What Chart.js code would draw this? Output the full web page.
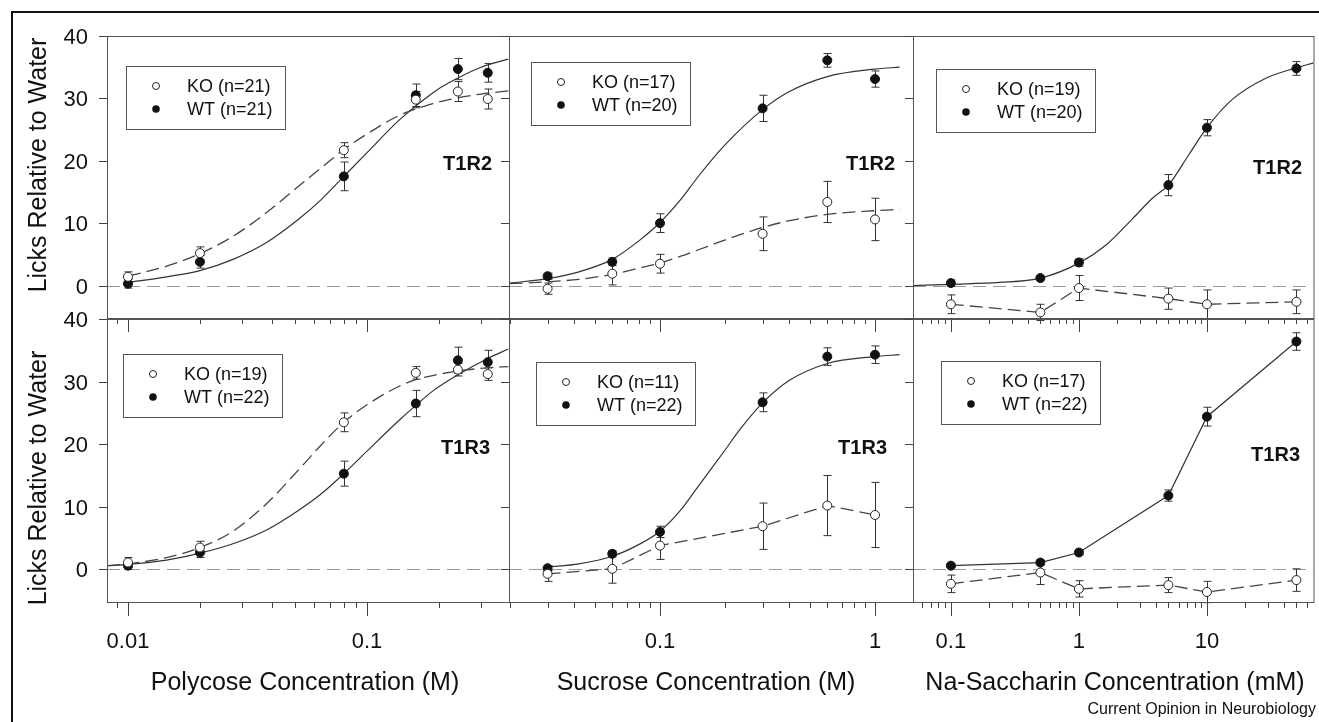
<!DOCTYPE html>
<html lang="en">
<head>
<meta charset="UTF-8">
<title>Licks Relative to Water - T1R2 / T1R3 knockout</title>
<script src="https://cdn.jsdelivr.net/npm/chart.js"></script>
<style>
  body { margin: 0; background: #fff; font-family: "Liberation Sans", Arial, sans-serif; color: #111; }
  #wrap { position: relative; width: 1319px; height: 722px; overflow: hidden; }
  #wrap canvas { position: absolute; left: 0; top: 0; }
  #frame { position: absolute; left: 11px; top: 11px; width: 1400px; height: 800px; border-left: 2px solid #111; border-top: 2px solid #111; }
  .ytitle { position: absolute; font-size: 25px; white-space: nowrap; transform: translate(-50%, -50%) rotate(-90deg); }
  .xtitle { position: absolute; top: 681px; font-size: 25px; white-space: nowrap; transform: translate(-50%, -50%); }
  #credit { position: absolute; right: 3px; top: 700px; font-size: 16px; white-space: nowrap; }
</style>
</head>
<body>
<div id="wrap">
  <div id="frame"></div>
  <canvas id="p0" width="1319" height="722"></canvas>
  <canvas id="p1" width="1319" height="722"></canvas>
  <canvas id="p2" width="1319" height="722"></canvas>
  <canvas id="p3" width="1319" height="722"></canvas>
  <canvas id="p4" width="1319" height="722"></canvas>
  <canvas id="p5" width="1319" height="722"></canvas>
  <div class="ytitle" style="left:37px; top:165px">Licks Relative to Water</div>
  <div class="ytitle" style="left:37px; top:478px">Licks Relative to Water</div>
  <div class="xtitle" style="left:305px">Polycose Concentration (M)</div>
  <div class="xtitle" style="left:706px">Sucrose Concentration (M)</div>
  <div class="xtitle" style="left:1115px">Na-Saccharin Concentration (mM)</div>
  <div id="credit">Current Opinion in Neurobiology</div>
</div>

<script>
// concentrations tested
const polycoseConc = [0.01, 0.02, 0.08, 0.16, 0.24, 0.32];
const sucroseConc = [0.03, 0.06, 0.1, 0.3, 0.6, 1];
const saccharinConc = [0.1, 0.5, 1, 5, 10, 50];

// T1R2 row: means and SEM
const polyT1R2KO = [1.4, 5.2, 21.7, 29.8, 31.1, 29.9];
const polyT1R2KOErr = [0.8, 1.0, 1.2, 1.3, 1.6, 1.6];
const polyT1R2WT = [0.3, 3.8, 17.5, 30.5, 34.7, 34.1];
const polyT1R2WTErr = [0.7, 1.0, 2.3, 1.8, 1.7, 1.5];
const sucT1R2KO = [-0.5, 1.9, 3.5, 8.3, 13.4, 10.6];
const sucT1R2KOErr = [0.9, 1.8, 1.5, 2.7, 3.3, 3.4];
const sucT1R2WT = [1.5, 3.8, 10.0, 28.4, 36.1, 33.1];
const sucT1R2WTErr = [0.5, 0.6, 1.5, 2.1, 1.1, 1.3];
const sacT1R2KO = [-3.0, -4.3, -0.4, -2.1, -3.0, -2.6];
const sacT1R2KOErr = [1.5, 1.3, 2.0, 1.7, 2.3, 1.9];
const sacT1R2WT = [0.4, 1.2, 3.7, 16.1, 25.3, 34.8];
const sacT1R2WTErr = [0.5, 0.3, 0.6, 1.7, 1.3, 1.1];

// T1R3 row: means and SEM
const polyT1R3KO = [1.1, 3.5, 23.5, 31.4, 31.9, 31.2];
const polyT1R3KOErr = [0.8, 1.0, 1.5, 1.0, 1.0, 1.0];
const polyT1R3WT = [0.6, 2.7, 15.3, 26.5, 33.4, 33.1];
const polyT1R3WTErr = [0.6, 0.8, 2.0, 2.1, 2.1, 1.9];
const sucT1R3KO = [-0.7, 0.1, 3.8, 6.9, 10.2, 8.7];
const sucT1R3KOErr = [1.2, 2.3, 2.2, 3.7, 4.8, 5.2];
const sucT1R3WT = [0.2, 2.5, 6.0, 26.7, 34.0, 34.3];
const sucT1R3WTErr = [0.4, 0.5, 0.9, 1.5, 1.4, 1.4];
const sacT1R3KO = [-2.3, -0.5, -3.1, -2.5, -3.6, -1.7];
const sacT1R3KOErr = [1.4, 1.9, 1.3, 1.2, 1.7, 1.8];
const sacT1R3WT = [0.6, 1.1, 2.7, 11.8, 24.4, 36.4];
const sacT1R3WTErr = [0.3, 0.4, 0.4, 0.9, 1.5, 1.4];

// fitted curves
const polyFitX = [0.01, 0.0145, 0.02, 0.0275, 0.038, 0.052, 0.064, 0.08, 0.1, 0.137, 0.19, 0.22, 0.3, 0.39];
const polyT1R2WTFit = [0.5, 1.4, 2.4, 4.2, 6.9, 10.7, 13.7, 17.5, 21.3, 26.6, 31.0, 32.5, 35.0, 36.3];
const polyT1R2KOFit = [1.5, 3.1, 5.1, 7.9, 11.7, 16.0, 18.8, 21.8, 24.3, 27.3, 29.2, 29.8, 30.7, 31.2];
const polyFitX3 = [0.0082, 0.01, 0.0145, 0.02, 0.0275, 0.038, 0.052, 0.064, 0.08, 0.1, 0.137, 0.16, 0.19, 0.24, 0.32, 0.39];
const polyT1R3WTFit = [0.6, 0.8, 1.5, 2.6, 4.1, 6.3, 9.5, 12.0, 15.3, 18.9, 23.9, 26.2, 28.6, 31.1, 33.7, 35.2];
const polyT1R3KOFit = [0.6, 0.9, 1.9, 3.5, 6.1, 10.5, 16.0, 19.8, 23.5, 26.3, 29.3, 30.3, 31.0, 31.7, 32.2, 32.4];
const sucFitX = [0.02, 0.03, 0.042, 0.06, 0.08, 0.1, 0.125, 0.15, 0.2, 0.3, 0.4, 0.6, 1.0, 1.3];
const sucT1R2WTFit = [0.4, 1.1, 2.2, 4.2, 7.2, 10.1, 13.8, 17.4, 22.5, 28.2, 31.1, 33.5, 34.7, 35.0];
const sucT1R2KOFit = [0.3, 0.6, 1.0, 1.8, 2.8, 3.6, 4.7, 5.7, 7.3, 9.3, 10.4, 11.4, 12.0, 12.2];
const sucFitX3 = [0.03, 0.042, 0.06, 0.08, 0.1, 0.125, 0.15, 0.2, 0.236, 0.3, 0.4, 0.6, 1.0, 1.3];
const sucT1R3WTFit = [0.4, 0.9, 2.1, 4.0, 6.1, 9.5, 13.2, 19.0, 22.4, 26.6, 30.2, 32.9, 34.0, 34.3];
const sacFitX = [0.0506, 0.1, 0.24, 0.5, 1, 1.63, 2.62, 3.75, 5, 7.24, 10, 15.7, 28.6, 50, 68];
const sacT1R2WTFit = [0.0, 0.2, 0.5, 1.2, 3.6, 6.5, 10.7, 14.0, 16.1, 21.0, 25.3, 29.8, 33.2, 34.9, 35.7];

const yTicks = [0, 10, 20, 30, 40];
const polyTickVals = [0.01, 0.1];
const sucTickVals = [0.1, 1];
const sacTickVals = [0.1, 1, 10];

const legendT1R2 = [['KO (n=21)', 'WT (n=21)'], ['KO (n=17)', 'WT (n=20)'], ['KO (n=19)', 'WT (n=20)']];
const legendT1R3 = [['KO (n=19)', 'WT (n=22)'], ['KO (n=11)', 'WT (n=22)'], ['KO (n=17)', 'WT (n=22)']];

const W = 1319, H = 722;
const FONT = '"Liberation Sans", Arial, sans-serif';

const panels = [
  { id: 'p0', box: [107, 36, 509, 318], xr: [0.00817, 0.3927], conc: polycoseConc,
    ko: polyT1R2KO, koErr: polyT1R2KOErr, wt: polyT1R2WT, wtErr: polyT1R2WTErr,
    koLine: [polyFitX, polyT1R2KOFit], wtLine: [polyFitX, polyT1R2WTFit],
    legend: legendT1R2[0], legendAt: [126, 66], gene: 'T1R2', geneAt: [492, 164], yLabels: true, xLabels: null },
  { id: 'p1', box: [509, 36, 913, 318], xr: [0.01985, 1.502], conc: sucroseConc,
    ko: sucT1R2KO, koErr: sucT1R2KOErr, wt: sucT1R2WT, wtErr: sucT1R2WTErr,
    koLine: [sucFitX, sucT1R2KOFit], wtLine: [sucFitX, sucT1R2WTFit],
    legend: legendT1R2[1], legendAt: [531, 62], gene: 'T1R2', geneAt: [895, 164], yLabels: false, xLabels: null },
  { id: 'p2', box: [913, 36, 1315, 318], xr: [0.0506, 68], conc: saccharinConc,
    ko: sacT1R2KO, koErr: sacT1R2KOErr, wt: sacT1R2WT, wtErr: sacT1R2WTErr,
    koLine: [saccharinConc, sacT1R2KO], koStraight: true, wtLine: [sacFitX, sacT1R2WTFit],
    legend: legendT1R2[2], legendAt: [936, 69], gene: 'T1R2', geneAt: [1302, 168], yLabels: false, xLabels: null },
  { id: 'p3', box: [107, 319, 509, 602], xr: [0.00817, 0.3927], conc: polycoseConc,
    ko: polyT1R3KO, koErr: polyT1R3KOErr, wt: polyT1R3WT, wtErr: polyT1R3WTErr,
    koLine: [polyFitX3, polyT1R3KOFit], wtLine: [polyFitX3, polyT1R3WTFit],
    legend: legendT1R3[0], legendAt: [123, 354], gene: 'T1R3', geneAt: [490, 448], yLabels: true, xLabels: polyTickVals },
  { id: 'p4', box: [509, 319, 913, 602], xr: [0.01985, 1.502], conc: sucroseConc,
    ko: sucT1R3KO, koErr: sucT1R3KOErr, wt: sucT1R3WT, wtErr: sucT1R3WTErr,
    koLine: [sucroseConc, sucT1R3KO], koStraight: true, wtLine: [sucFitX3, sucT1R3WTFit],
    legend: legendT1R3[1], legendAt: [536, 362], gene: 'T1R3', geneAt: [887, 448], yLabels: false, xLabels: sucTickVals },
  { id: 'p5', box: [913, 319, 1315, 602], xr: [0.0506, 68], conc: saccharinConc,
    ko: sacT1R3KO, koErr: sacT1R3KOErr, wt: sacT1R3WT, wtErr: sacT1R3WTErr,
    koLine: [saccharinConc, sacT1R3KO], koStraight: true, wtLine: [saccharinConc, sacT1R3WT], wtStraight: true,
    legend: legendT1R3[2], legendAt: [941, 361], gene: 'T1R3', geneAt: [1300, 455], yLabels: false, xLabels: sacTickVals }
];

function logTicks(min, max) {
  const out = [];
  for (let d = Math.floor(Math.log10(min)); d <= Math.ceil(Math.log10(max)); d++) {
    for (let m = 1; m <= 9; m++) {
      const v = m * Math.pow(10, d);
      if (v >= min && v <= max) out.push({ v: v, major: m === 1 });
    }
  }
  return out;
}

function panelPlugin(p) {
  return {
    id: 'panelDecor',
    beforeDatasetsDraw(chart) {
      const ctx = chart.ctx, a = chart.chartArea, x = chart.scales.x, y = chart.scales.y;
      ctx.save();
      // dashed zero line
      ctx.strokeStyle = '#9a9a9a';
      ctx.lineWidth = 1;
      ctx.setLineDash([13, 7]);
      const y0 = Math.round(y.getPixelForValue(0)) + 0.5;
      ctx.beginPath(); ctx.moveTo(a.left, y0); ctx.lineTo(a.right, y0); ctx.stroke();
      ctx.setLineDash([]);
      // error bars
      ctx.strokeStyle = '#333';
      chart.data.datasets.forEach(ds => {
        if (!ds.errors) return;
        ds.data.forEach((pt, i) => {
          const e = ds.errors[i];
          const px = Math.round(x.getPixelForValue(pt.x)) + 0.5;
          const t = y.getPixelForValue(pt.y + e), b = y.getPixelForValue(pt.y - e);
          ctx.beginPath();
          ctx.moveTo(px, t); ctx.lineTo(px, b);
          ctx.moveTo(px - 4, t); ctx.lineTo(px + 4, t);
          ctx.moveTo(px - 4, b); ctx.lineTo(px + 4, b);
          ctx.stroke();
        });
      });
      ctx.restore();
    },
    afterDatasetsDraw(chart) {
      const ctx = chart.ctx, a = chart.chartArea, x = chart.scales.x, y = chart.scales.y;
      ctx.save();
      // frame
      ctx.strokeStyle = '#555';
      ctx.lineWidth = 1;
      ctx.strokeRect(a.left + 0.5, a.top + 0.5, a.right - a.left, a.bottom - a.top);
      // y ticks, pointing out on the left
      ctx.strokeStyle = '#444';
      ctx.fillStyle = '#111';
      ctx.font = '22px ' + FONT;
      ctx.textAlign = 'right';
      ctx.textBaseline = 'middle';
      yTicks.forEach(v => {
        const py = Math.round(y.getPixelForValue(v)) + 0.5;
        ctx.beginPath(); ctx.moveTo(a.left - 8, py); ctx.lineTo(a.left, py); ctx.stroke();
        if (p.yLabels) ctx.fillText(String(v), a.left - 19, py + 1);
      });
      // x ticks, pointing down from the bottom edge
      logTicks(p.xr[0], p.xr[1]).forEach(t => {
        const px = Math.round(x.getPixelForValue(t.v)) + 0.5;
        ctx.beginPath(); ctx.moveTo(px, a.bottom); ctx.lineTo(px, a.bottom + (t.major ? 14 : 6)); ctx.stroke();
      });
      if (p.xLabels) {
        ctx.textAlign = 'center';
        p.xLabels.forEach(v => ctx.fillText(String(v), x.getPixelForValue(v), 642));
      }
      // legend box
      const lx = p.legendAt[0], ly = p.legendAt[1];
      ctx.strokeStyle = '#555';
      ctx.strokeRect(lx + 0.5, ly + 0.5, 159, 63);
      ctx.strokeStyle = '#222';
      ctx.beginPath(); ctx.arc(lx + 30, ly + 20, 3.5, 0, Math.PI * 2);
      ctx.fillStyle = '#fff'; ctx.fill(); ctx.stroke();
      ctx.beginPath(); ctx.arc(lx + 30, ly + 43, 3.8, 0, Math.PI * 2);
      ctx.fillStyle = '#111'; ctx.fill();
      ctx.font = '18px ' + FONT;
      ctx.textAlign = 'left';
      ctx.fillText(p.legend[0], lx + 61, ly + 21);
      ctx.fillText(p.legend[1], lx + 61, ly + 44);
      // receptor label
      ctx.font = 'bold 20px ' + FONT;
      ctx.textAlign = 'right';
      ctx.fillText(p.gene, p.geneAt[0], p.geneAt[1]);
      ctx.restore();
    }
  };
}

function pts(xs, ys) {
  return xs.map((v, i) => ({ x: v, y: ys[i] }));
}

panels.forEach(p => {
  new Chart(document.getElementById(p.id), {
    type: 'scatter',
    data: {
      datasets: [
        { data: pts(p.conc, p.ko), errors: p.koErr, showLine: false, pointRadius: 4.5,
          pointBackgroundColor: '#fff', pointBorderColor: '#222', pointBorderWidth: 1 },
        { data: pts(p.conc, p.wt), errors: p.wtErr, showLine: false, pointRadius: 4.5,
          pointBackgroundColor: '#111', pointBorderColor: '#111', pointBorderWidth: 1 },
        { data: pts(p.koLine[0], p.koLine[1]), showLine: true, pointRadius: 0, borderColor: '#444',
          borderWidth: 1.3, borderDash: [13, 6], cubicInterpolationMode: p.koStraight ? 'default' : 'monotone' },
        { data: pts(p.wtLine[0], p.wtLine[1]), showLine: true, pointRadius: 0, borderColor: '#333',
          borderWidth: 1.2, cubicInterpolationMode: p.wtStraight ? 'default' : 'monotone' }
      ]
    },
    options: {
      responsive: false,
      animation: false,
      events: [],
      layout: { padding: { left: p.box[0], top: p.box[1], right: W - p.box[2], bottom: H - p.box[3] } },
      scales: {
        x: { type: 'logarithmic', min: p.xr[0], max: p.xr[1], display: false },
        y: { type: 'linear', min: -5.2, max: 40, display: false }
      },
      plugins: { legend: { display: false }, tooltip: { enabled: false } }
    },
    plugins: [panelPlugin(p)]
  });
});
</script>
</body>
</html>
